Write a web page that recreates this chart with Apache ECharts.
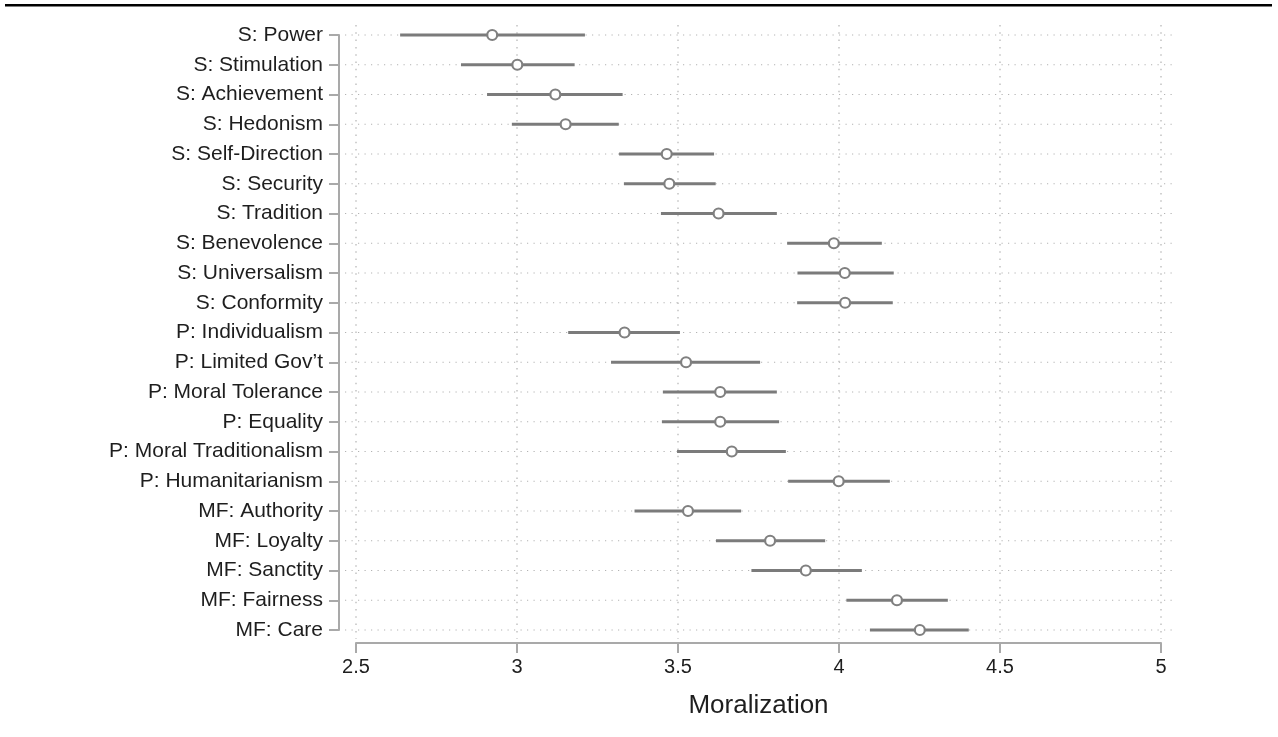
<!DOCTYPE html>
<html>
<head>
<meta charset="utf-8">
<script src="https://cdn.jsdelivr.net/npm/echarts@6/dist/echarts.min.js"></script>
<style>
html,body{margin:0;padding:0;background:#fff;}
#chart{width:1278px;height:737px;}
</style>
</head>
<body>
<div id="chart"></div>
<script>
const categories = [
  'S: Power','S: Stimulation','S: Achievement','S: Hedonism','S: Self-Direction',
  'S: Security','S: Tradition','S: Benevolence','S: Universalism','S: Conformity',
  'P: Individualism','P: Limited Gov\u2019t','P: Moral Tolerance','P: Equality',
  'P: Moral Traditionalism','P: Humanitarianism','MF: Authority','MF: Loyalty',
  'MF: Sanctity','MF: Fairness','MF: Care'
];
const means = [2.923,3.001,3.119,3.151,3.465,3.473,3.626,3.984,4.018,4.019,
  3.334,3.525,3.631,3.631,3.667,3.999,3.531,3.786,3.897,4.180,4.251];
const lows = [2.637,2.826,2.907,2.984,3.317,3.332,3.447,3.839,3.871,3.870,
  3.159,3.292,3.453,3.450,3.497,3.842,3.365,3.618,3.728,4.023,4.096];
const highs = [3.211,3.179,3.328,3.316,3.612,3.617,3.807,4.133,4.170,4.167,
  3.506,3.755,3.807,3.814,3.835,4.158,3.696,3.957,4.071,4.338,4.403];
const xTicks = [2.5,3,3.5,4,4.5,5];
const xTitle = 'Moralization';

const FONT = '"Liberation Sans", Arial, Helvetica, sans-serif';
const AXIS_COLOR = '#a9a9a9';
const GRID_COLOR = '#b3b3b3';
const MARK_COLOR = '#7b7b7b';

const chart = echarts.init(document.getElementById('chart'), null, {renderer:'canvas'});

const option = {
  backgroundColor: '#fff',
  animation: false,
  graphic: [{
    type: 'rect', left: 5, top: 4,
    shape: {width: 1267, height: 2.5},
    style: {fill: '#000'}
  }],
  grid: {left: 356, right: 117, top: 35, bottom: 107},
  xAxis: {
    type: 'value', min: xTicks[0], max: xTicks[xTicks.length-1], interval: 0.5,
    offset: 13,
    axisLine: {show: true, lineStyle: {color: AXIS_COLOR, width: 2}},
    axisTick: {show: true, length: 10, lineStyle: {color: AXIS_COLOR, width: 2}},
    axisLabel: {color: '#1e1e1e', fontSize: 20, fontFamily: FONT, margin: 14},
    splitLine: {show: false},
    name: xTitle, nameLocation: 'middle', nameGap: 50,
    nameTextStyle: {color: '#1e1e1e', fontSize: 26, fontFamily: FONT}
  },
  yAxis: {
    type: 'category', data: categories, inverse: true, boundaryGap: false,
    offset: 17,
    axisLine: {show: true, lineStyle: {color: AXIS_COLOR, width: 2}},
    axisTick: {show: true, length: 10, lineStyle: {color: AXIS_COLOR, width: 2}},
    axisLabel: {color: '#1e1e1e', fontSize: 21, fontFamily: FONT, margin: 16, interval: 0},
    splitLine: {show: false}
  },
  series: [
    {
      type: 'custom', name: 'vgrid', z: 1, clip: false, silent: true,
      data: xTicks.map(v => [v, 0]),
      encode: {x: 0, y: 1},
      renderItem: function(params, api) {
        const v = api.value(0);
        const top = api.coord([v, 0]);
        const bot = api.coord([v, categories.length - 1]);
        return {
          type: 'line',
          shape: {x1: top[0], y1: top[1] - 10, x2: bot[0], y2: bot[1] + 9},
          style: {stroke: GRID_COLOR, lineWidth: 1.2, lineDash: [1.5, 5.8]}
        };
      }
    },
    {
      type: 'custom', name: 'hgrid', z: 1, clip: false, silent: true,
      data: categories.map((c, i) => [xTicks[0], i]),
      encode: {x: 0, y: 1},
      renderItem: function(params, api) {
        const i = api.value(1);
        const l = api.coord([xTicks[0], i]);
        const r = api.coord([xTicks[xTicks.length-1], i]);
        return {
          type: 'line',
          shape: {x1: l[0] - 11, y1: l[1], x2: r[0] + 15, y2: r[1]},
          style: {stroke: GRID_COLOR, lineWidth: 1.2, lineDash: [1.2, 5.3]}
        };
      }
    },
    {
      type: 'custom', name: 'ci', z: 2, clip: false,
      data: categories.map((c, i) => [lows[i], highs[i], i]),
      encode: {x: [0, 1], y: 2},
      renderItem: function(params, api) {
        const i = api.value(2);
        const a = api.coord([api.value(0), i]);
        const b = api.coord([api.value(1), i]);
        return {
          type: 'line',
          shape: {x1: a[0], y1: a[1], x2: b[0], y2: b[1]},
          style: {stroke: MARK_COLOR, lineWidth: 3}
        };
      }
    },
    {
      type: 'scatter', name: 'mean', z: 3,
      data: categories.map((c, i) => [means[i], c]),
      symbol: 'circle', symbolSize: 10,
      itemStyle: {color: '#fff', borderColor: '#808080', borderWidth: 2.2, opacity: 1}
    }
  ]
};
chart.setOption(option);
</script>
</body>
</html>
